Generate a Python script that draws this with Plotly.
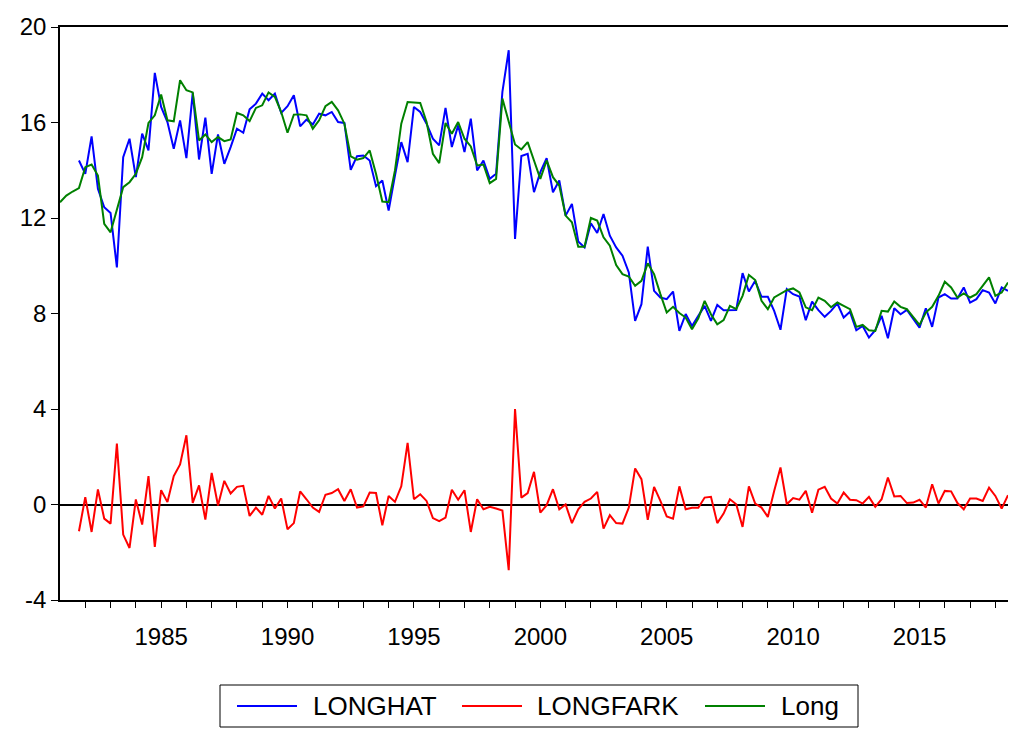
import plotly.graph_objects as go
import pandas as pd

periods = pd.period_range("1981Q1", "2018Q3", freq="Q")

long_vals = [12.66, 12.94, 13.11, 13.25, 14.13, 14.24, 13.78, 11.75, 11.40, 12.38,
             13.29, 13.50, 13.85, 14.55, 15.98, 16.30, 17.17, 16.09, 16.05, 17.77,
             17.35, 17.26, 15.25, 15.50, 15.18, 15.39, 15.22, 15.29, 16.40, 16.30,
             16.06, 16.61, 16.72, 17.26, 17.07, 16.44, 15.57, 16.33, 16.34, 16.30,
             15.74, 16.09, 16.68, 16.86, 16.51, 15.95, 14.58, 14.44, 14.51, 14.83,
             13.85, 12.69, 12.66, 13.99, 15.95, 16.86, 16.84, 16.82, 16.02, 14.69,
             14.30, 15.98, 15.53, 16.02, 15.32, 15.00, 14.20, 14.24, 13.46, 13.64,
             17.00, 16.09, 15.08, 14.87, 15.18, 14.41, 13.64, 14.41, 13.71, 13.36,
             12.10, 11.82, 10.80, 10.80, 12.00, 11.89, 11.19, 10.84, 10.03, 9.65,
             9.55, 9.16, 9.37, 10.10, 9.65, 8.81, 8.04, 8.28, 8.02, 7.83,
             7.34, 7.80, 8.53, 7.97, 7.55, 7.72, 8.32, 8.18, 8.74, 9.61,
             9.40, 8.53, 8.18, 8.67, 8.81, 8.98, 9.05, 8.88, 8.26, 8.14,
             8.67, 8.53, 8.26, 8.46, 8.32, 8.18, 7.44, 7.52, 7.30, 7.27,
             8.11, 8.08, 8.50, 8.28, 8.18, 7.86, 7.52, 8.04, 8.28, 8.74,
             9.33, 9.09, 8.67, 8.84, 8.67, 8.81, 9.16, 9.51, 8.74, 8.88,
             9.30]

longhat_vals = [None, None, None, 14.41, 13.85, 15.42, 13.22, 12.45, 12.21, 9.93,
                14.55, 15.32, 13.71, 15.53, 14.83, 18.08, 16.65, 16.02, 14.90, 16.09,
                14.51, 17.24, 14.45, 16.20, 13.85, 15.50, 14.27, 14.97, 15.74, 15.57,
                16.55, 16.79, 17.21, 16.93, 17.21, 16.40, 16.68, 17.14, 15.84, 16.12,
                15.92, 16.37, 16.30, 16.44, 16.02, 15.98, 14.02, 14.59, 14.62, 14.41,
                13.33, 13.57, 12.31, 13.78, 15.18, 14.34, 16.65, 16.44, 15.95, 15.32,
                15.04, 16.61, 14.97, 15.88, 14.76, 16.16, 13.99, 14.41, 13.64, 13.85,
                17.28, 19.03, 11.12, 14.60, 14.69, 13.08, 13.92, 14.51, 13.08, 13.57,
                12.10, 12.59, 11.02, 10.77, 11.78, 11.37, 12.17, 11.26, 10.77, 10.42,
                9.72, 7.69, 8.39, 10.80, 8.95, 8.67, 8.60, 8.92, 7.27, 7.98,
                7.48, 7.90, 8.32, 7.69, 8.36, 8.14, 8.15, 8.15, 9.69, 8.92,
                9.37, 8.70, 8.70, 8.11, 7.32, 9.02, 8.81, 8.71, 7.72, 8.50,
                8.14, 7.86, 8.11, 8.42, 7.83, 8.07, 7.30, 7.48, 6.99, 7.30,
                7.90, 6.96, 8.22, 7.97, 8.15, 7.80, 7.41, 8.22, 7.44, 8.67,
                8.81, 8.63, 8.63, 9.09, 8.46, 8.60, 8.98, 8.88, 8.42, 9.09,
                8.95]

longfark_vals = [None, None, None, -1.12, 0.31, -1.15, 0.63, -0.59, -0.80, 2.55,
                 -1.26, -1.82, 0.21, -0.84, 1.19, -1.78, 0.60, 0.10, 1.19, 1.68,
                 2.90, 0.07, 0.80, -0.63, 1.32, -0.04, 0.99, 0.46, 0.74, 0.78,
                 -0.48, -0.13, -0.43, 0.36, -0.17, 0.25, -1.04, -0.78, 0.55, 0.22,
                 -0.13, -0.31, 0.41, 0.48, 0.64, 0.15, 0.64, -0.13, -0.08, 0.50,
                 0.48, -0.87, 0.36, 0.11, 0.76, 2.58, 0.22, 0.43, 0.15, -0.57,
                 -0.70, -0.55, 0.62, 0.20, 0.60, -1.15, 0.22, -0.20, -0.10, -0.17,
                 -0.25, -2.75, 4.00, 0.29, 0.48, 1.37, -0.34, -0.03, 0.64, -0.20,
                 0.00, -0.78, -0.20, 0.11, 0.25, 0.53, -1.01, -0.45, -0.78, -0.80,
                 -0.13, 1.51, 1.06, -0.64, 0.74, 0.15, -0.50, -0.59, 0.76, -0.20,
                 -0.14, -0.14, 0.29, 0.32, -0.78, -0.38, 0.22, 0.01, -0.94, 0.76,
                 0.04, -0.13, -0.52, 0.57, 1.55, 0.01, 0.27, 0.20, 0.57, -0.34,
                 0.62, 0.74, 0.25, 0.04, 0.50, 0.20, 0.18, 0.04, 0.32, -0.10,
                 0.22, 1.13, 0.34, 0.36, 0.06, 0.08, 0.20, -0.13, 0.85, 0.04,
                 0.57, 0.55, 0.06, -0.20, 0.25, 0.25, 0.15, 0.71, 0.36, -0.17,
                 0.39]

x_time = [p.year + (p.quarter - 1) / 4 for p in periods]

year_ticks = list(range(1982, 2019))
year_labels = [str(y) if y % 5 == 0 else "" for y in year_ticks]
y_ticks = [-4, 0, 4, 8, 12, 16, 20]
y_labels = ["-4", "0", "4", "8", "12", "16", "20"]

series_names = ["LONGHAT", "LONGFARK", "Long"]
series_colors = ["#0000FF", "#FF0000", "#008000"]
series_data = [longhat_vals, longfark_vals, long_vals]

FONT = "Liberation Sans, Arial, sans-serif"

W, H = 1009, 729
ML, MR, MT, MB = 60, 1, 27, 129
PW, PH = W - ML - MR, H - MT - MB


def px_x(p):
    return (p - ML) / PW


def px_y(p):
    return (H - MB - p) / PH


fig = go.Figure()
for name, color, data in zip(series_names, series_colors, series_data):
    fig.add_trace(go.Scatter(x=x_time, y=data, mode="lines", name=name,
                             line=dict(color=color, width=2), showlegend=False))

# Legend drawn as a framed box below the plot (EViews style)
legend_box = (220, 685, 858, 727)
legend_row_y = 706
legend_line_x = [(237, 297), (462, 522), (705, 765)]
legend_text_x = [311, 535, 779]

shapes = [dict(type="rect", xref="paper", yref="paper",
               x0=px_x(legend_box[0]), x1=px_x(legend_box[2]),
               y0=px_y(legend_box[3]), y1=px_y(legend_box[1]),
               line=dict(color="black", width=1), fillcolor="white", layer="above")]
annotations = []
for (lx0, lx1), tx, name, color in zip(legend_line_x, legend_text_x, series_names, series_colors):
    shapes.append(dict(type="line", xref="paper", yref="paper",
                       x0=px_x(lx0), x1=px_x(lx1), y0=px_y(legend_row_y), y1=px_y(legend_row_y),
                       line=dict(color=color, width=2), layer="above"))
    annotations.append(dict(xref="paper", yref="paper", x=px_x(tx), y=px_y(legend_row_y),
                            text=name, showarrow=False, xanchor="left", yanchor="middle",
                            font=dict(size=26, family=FONT, color="black")))

fig.update_layout(
    width=W, height=H,
    margin=dict(l=ML, r=MR, t=MT, b=MB, autoexpand=False),
    paper_bgcolor="white", plot_bgcolor="white",
    font=dict(family=FONT, size=24, color="black"),
    showlegend=False,
    shapes=shapes, annotations=annotations,
    xaxis=dict(range=[1981, 2018.5], tickmode="array", tickvals=year_ticks,
               ticktext=year_labels, ticks="outside", ticklen=6, tickcolor="black",
               showline=True, linecolor="black", linewidth=1.5, mirror=True,
               showgrid=False, zeroline=False, tickfont=dict(size=24),
               ticklabelstandoff=8, automargin=False),
    yaxis=dict(range=[-4, 20], tickmode="array", tickvals=y_ticks, ticktext=y_labels,
               ticks="outside", ticklen=7, tickcolor="black",
               showline=True, linecolor="black", linewidth=1.5, mirror=False,
               showgrid=False, zeroline=True, zerolinecolor="black", zerolinewidth=1.5,
               tickfont=dict(size=24), automargin=False),
)

fig.write_html("out.html", config={"displayModeBar": False},
               post_script="document.body.style.margin='0';document.body.style.overflow='hidden';")
